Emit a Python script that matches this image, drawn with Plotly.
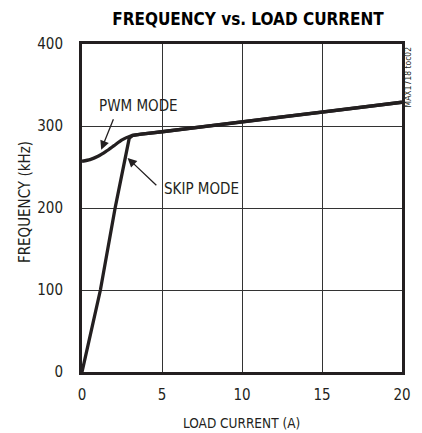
import plotly.graph_objects as go

pwm_x = [0, 0.5, 1.0, 1.5, 2.0, 2.5, 3.0, 3.3, 3.7, 5, 10, 15, 20]
pwm_y = [257, 259, 263, 269, 276, 283, 287.5, 289, 290, 293, 305, 317, 329]
skip_x = [0, 1.15, 2.07, 2.95, 3.15, 3.4, 3.7, 5, 10, 15, 20]
skip_y = [0, 100, 200, 285, 288.5, 289.3, 290, 293, 305, 317, 329]

x_ticks = [0, 5, 10, 15, 20]
y_ticks = [0, 100, 200, 300, 400]

FONT = "Liberation Sans Narrow, DejaVu Sans Condensed, Roboto Condensed, Roboto, sans-serif"
INK = "#231f20"

fig = go.Figure()
fig.add_trace(go.Scatter(x=pwm_x, y=pwm_y, mode="lines", hoverinfo="skip",
                         line=dict(color=INK, width=3.3, shape="spline", smoothing=0.6)))
fig.add_trace(go.Scatter(x=skip_x, y=skip_y, mode="lines", hoverinfo="skip",
                         line=dict(color=INK, width=3.3)))

fig.add_annotation(x=1.2, y=271, ax=2.0, ay=310, axref="x", ayref="y", text="", showarrow=True,
                   arrowhead=2, arrowsize=1.4, arrowwidth=1.3, arrowcolor=INK)
fig.add_annotation(x=3.5, y=324, text="PWM MODE", showarrow=False, font=dict(family=FONT, size=15, color=INK))
fig.add_annotation(x=2.85, y=261, ax=4.74, ay=226, axref="x", ayref="y", text="", showarrow=True,
                   arrowhead=2, arrowsize=1.4, arrowwidth=1.3, arrowcolor=INK)
fig.add_annotation(x=7.45, y=222.6, text="SKIP MODE", showarrow=False, font=dict(family=FONT, size=15, color=INK))

fig.add_annotation(x=1.0198, xref="paper", xanchor="center", y=0.899, yref="paper", yanchor="middle",
                   text="MAX1718 toc02", textangle=-90, showarrow=False,
                   font=dict(family=FONT, size=8.5, color=INK))

fig.add_annotation(x=0.4985, xref="paper", y=-0.154, yref="paper", xanchor="center", yanchor="middle",
                   text="LOAD CURRENT (A)", showarrow=False, font=dict(family=FONT, size=13.5, color=INK))
fig.add_annotation(x=-0.1763, xref="paper", y=0.5168, yref="paper", xanchor="center", yanchor="middle",
                   text="FREQUENCY (kHz)", textangle=-90, showarrow=False, font=dict(family=FONT, size=15, color=INK))

fig.update_layout(
    width=422, height=433,
    margin=dict(l=82, r=11, t=44, b=61),
    paper_bgcolor="white", plot_bgcolor="white",
    showlegend=False,
    hovermode=False,
    title=dict(text="<b>FREQUENCY vs. LOAD CURRENT</b>", x=0.5877, xanchor="center", y=0.956, yanchor="middle",
               font=dict(family=FONT, size=17, color="black")),
    font=dict(family=FONT, size=15, color=INK),
)
fig.update_xaxes(range=[0, 20], tickvals=x_ticks, ticks="", showline=True, linewidth=3, linecolor=INK, mirror=True,
                 showgrid=True, gridcolor="#333333", gridwidth=1, zeroline=False, ticklabelstandoff=7)
fig.update_yaxes(range=[0, 400], tickvals=y_ticks, ticks="", showline=True, linewidth=3, linecolor=INK, mirror=True,
                 showgrid=True, gridcolor="#333333", gridwidth=1, zeroline=False, ticklabelstandoff=13)

fig.write_html("out.html", config={"displayModeBar": False},
               post_script="document.body.style.margin='0';document.body.style.overflow='hidden';")
